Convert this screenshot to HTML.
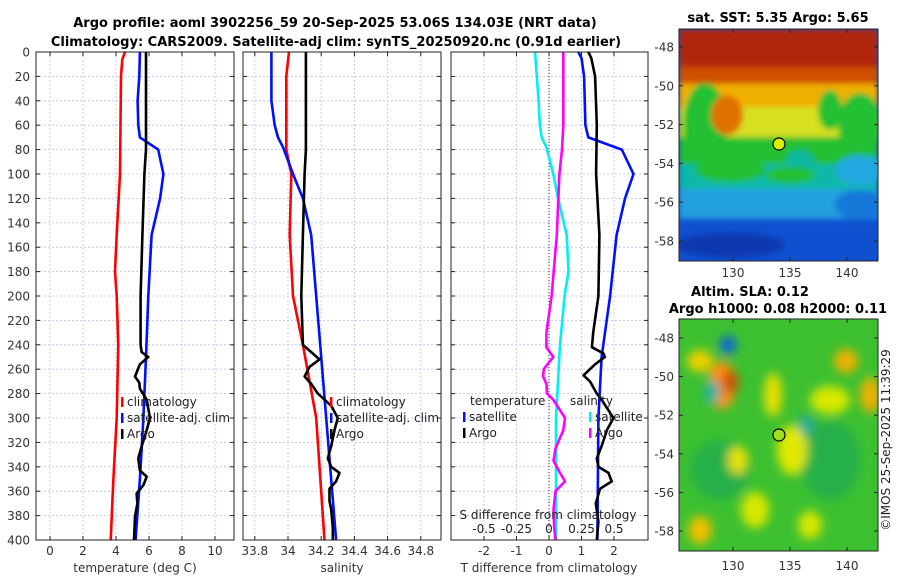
<!DOCTYPE html>
<html><head><meta charset="utf-8"><style>
body{margin:0;background:#fff;width:900px;height:580px;overflow:hidden}
svg{display:block;font-family:"DejaVu Sans","Liberation Sans",sans-serif}
</style></head><body>
<svg id="c" width="900" height="580" viewBox="0 0 900 580" xmlns="http://www.w3.org/2000/svg">
<defs>
<filter id="bl" x="-50%" y="-50%" width="200%" height="200%"><feGaussianBlur stdDeviation="5"/></filter>
<filter id="bl2" x="-50%" y="-50%" width="200%" height="200%"><feGaussianBlur stdDeviation="3"/></filter>
<clipPath id="cm1"><rect x="679" y="29" width="199" height="232"/></clipPath>
<clipPath id="cm2"><rect x="679" y="319" width="199" height="232"/></clipPath>
</defs>
<text x="335" y="27" text-anchor="middle" font-weight="bold" font-size="13">Argo profile: aoml 3902256_59 20-Sep-2025 53.06S 134.03E (NRT data)</text>
<text x="336" y="46" text-anchor="middle" font-weight="bold" font-size="13">Climatology: CARS2009. Satellite-adj clim: synTS_20250920.nc (0.91d earlier)</text>

<g clip-path="url(#cm1)">
<rect x="679" y="29" width="199" height="232" fill="#1050d0"/>
<g filter="url(#bl2)">
<rect x="679" y="29" width="199" height="190" fill="#20a0e0"/>
<rect x="679" y="29" width="199" height="160" fill="#10b8a8"/>
<rect x="679" y="29" width="199" height="135" fill="#20c030"/>
<rect x="679" y="29" width="199" height="108" fill="#d8e020"/>
<rect x="679" y="29" width="199" height="78" fill="#f0b000"/>
<rect x="679" y="29" width="199" height="55" fill="#d05000"/>
<rect x="679" y="29" width="199" height="38" fill="#b02808"/>
<ellipse cx="705" cy="125" rx="22" ry="42" fill="#20c030"/>
<ellipse cx="860" cy="125" rx="22" ry="32" fill="#20c030"/>
<ellipse cx="830" cy="110" rx="12" ry="20" fill="#20c030"/>
<ellipse cx="727" cy="115" rx="16" ry="20" fill="#e07000"/>
<ellipse cx="800" cy="160" rx="14" ry="10" fill="#10b8a0"/>
<ellipse cx="730" cy="170" rx="35" ry="12" fill="#20c030"/>
<ellipse cx="790" cy="175" rx="25" ry="8" fill="#20c030"/>
<ellipse cx="860" cy="170" rx="25" ry="15" fill="#20a8e0"/>
<ellipse cx="860" cy="205" rx="25" ry="15" fill="#1878d8"/>
<ellipse cx="730" cy="245" rx="55" ry="12" fill="#0838b0"/>
</g>
<circle cx="779" cy="144" r="6" fill="#d8f000" stroke="#000" stroke-width="1.2"/>
</g>
<rect x="679" y="29" width="199" height="232" fill="none" stroke="#222" stroke-width="1"/>
<text x="778" y="22" text-anchor="middle" font-weight="bold" font-size="13">sat. SST: 5.35 Argo: 5.65</text>

<g clip-path="url(#cm2)">
<rect x="679" y="319" width="199" height="232" fill="#3cc030"/>
<g filter="url(#bl)">
<ellipse cx="720" cy="470" rx="30" ry="30" fill="#28b048"/>
<ellipse cx="830" cy="460" rx="30" ry="40" fill="#28b048"/>
<ellipse cx="722" cy="385" rx="14" ry="24" fill="#ff9010"/>
<ellipse cx="730" cy="382" rx="8" ry="12" fill="#d05000"/>
<ellipse cx="728" cy="345" rx="8" ry="9" fill="#1060e0"/>
<ellipse cx="700" cy="361" rx="13" ry="11" fill="#f0d000"/>
<ellipse cx="846" cy="361" rx="12" ry="12" fill="#f0b000"/>
<ellipse cx="870" cy="395" rx="10" ry="18" fill="#f0b000"/>
<ellipse cx="773" cy="395" rx="9" ry="22" fill="#e8e000"/>
<ellipse cx="792" cy="450" rx="15" ry="25" fill="#e0e800"/>
<ellipse cx="738" cy="460" rx="10" ry="14" fill="#e8e000"/>
<ellipse cx="830" cy="400" rx="20" ry="14" fill="#d8e800"/>
<ellipse cx="700" cy="530" rx="12" ry="14" fill="#f0c000"/>
<ellipse cx="755" cy="510" rx="14" ry="18" fill="#d8e800"/>
<ellipse cx="810" cy="525" rx="12" ry="14" fill="#d8e800"/>
<ellipse cx="712" cy="392" rx="8" ry="12" fill="#20b0a0"/>
<ellipse cx="806" cy="425" rx="7" ry="10" fill="#20a8a0"/>
</g>
<circle cx="779" cy="435" r="6" fill="#a0e020" stroke="#000" stroke-width="1.2"/>
</g>
<rect x="679" y="319" width="199" height="232" fill="none" stroke="#222" stroke-width="1"/>
<text x="750" y="296" text-anchor="middle" font-weight="bold" font-size="13">Altim. SLA: 0.12</text>
<text x="778" y="313" text-anchor="middle" font-weight="bold" font-size="13">Argo h1000: 0.08 h2000: 0.11</text>
<text transform="translate(890,440) rotate(-90)" text-anchor="middle" font-size="12" fill="#222">©IMOS 25-Sep-2025 11:39:29</text>
<g id="g"></g>
</svg>
<script>
// ---------- data ----------
const depthTicks=[0,20,40,60,80,100,120,140,160,180,200,220,240,260,280,300,320,340,360,380,400];
const tTicks=[0,2,4,6,8,10];
const sTicks=[33.8,34,34.2,34.4,34.6,34.8];
const sTickLabels=["33.8","34","34.2","34.4","34.6","34.8"];
const tdTicks=[-2,-1,0,1,2];
const sdTicks=[-0.5,-0.25,0,0.25,0.5];
const sdTickLabels=["-0.5","-0.25","0","0.25","0.5"];

const climTDepth=[0,6,20,100,150,180,200,240,300,350,400];
const climT=[4.55,4.38,4.30,4.24,4.04,3.94,4.04,4.14,4.04,3.84,3.68];
const satTDepth=[0,20,40,60,70,80,100,120,150,200,250,300,350,400];
const satT=[5.45,5.41,5.31,5.35,5.45,6.56,6.87,6.67,6.16,5.96,5.82,5.66,5.45,5.19];
const argoTDepth=[0,60,80,100,150,200,240,246,250,256,266,271,276,285,300,312,323,333,343,348,355,362,370,381,400];
const argoT=[5.82,5.82,5.82,5.72,5.60,5.49,5.49,5.55,5.96,5.45,5.15,5.41,5.45,5.86,6.06,5.82,5.56,5.35,5.45,5.86,5.66,5.25,5.30,5.15,5.09];

const climSDepth=[0,20,80,100,150,200,240,300,400];
const climS=[34.006,33.99,33.99,34.02,34.01,34.03,34.09,34.17,34.22];
const satSDepth=[0,40,60,70,78,100,120,150,200,300,400];
const satS=[33.90,33.90,33.92,33.94,33.97,34.03,34.09,34.14,34.17,34.23,34.29];
const argoSDepth=[0,80,100,150,200,240,246,252,258,266,272,280,290,300,310,323,333,340,345,352,358,368,375,390,400];
const argoS=[34.108,34.108,34.10,34.09,34.08,34.09,34.14,34.19,34.13,34.10,34.14,34.18,34.26,34.30,34.28,34.26,34.24,34.26,34.31,34.29,34.25,34.25,34.26,34.27,34.27];

const satSdDepth=[0,40,60,70,78,100,120,150,180,200,240,300,400];
const satSd=[-0.108,-0.08,-0.07,-0.056,-0.02,0.033,0.07,0.136,0.15,0.12,0.085,0.054,0.054];
const argoSdDepth=[0,60,80,100,150,200,230,242,250,255,260,266,272,280,285,300,310,325,335,345,352,360,375,390,400];
const argoSd=[0.11,0.11,0.10,0.08,0.06,0.02,-0.02,-0.02,0.033,-0.005,-0.04,-0.045,-0.02,-0.015,0.033,0.123,0.11,0.05,0.035,0.085,0.123,0.05,0.035,0.04,0.05];
const satTdDepth=[0,5,20,60,70,80,100,120,150,200,250,300,400];
const satTd=[0.90,1.0,1.08,1.12,1.21,2.24,2.6,2.34,2.08,1.88,1.62,1.52,1.49];
const argoTdDepth=[0,5,20,60,100,150,200,230,242,247,250,256,265,270,280,285,300,310,323,333,340,345,352,358,370,385,400];
const argoTd=[1.21,1.3,1.42,1.47,1.45,1.55,1.52,1.36,1.32,1.67,1.72,1.42,1.06,1.26,1.47,1.62,1.98,1.78,1.62,1.47,1.52,1.83,1.93,1.57,1.44,1.52,1.47];

// ---------- axes ----------
const yTop=52,yBot=540;
const yD=d=>yTop+d*(yBot-yTop)/400;
const panels=[{x0:36,x1:234},{x0:243,x1:441},{x0:451,x1:648}];
const xT=v=>50+v*16.5;
const xS=v=>288+(v-34)*166;
const xTd=v=>549+v*32.5;
const xSd=v=>549+v*130;
const NS="http://www.w3.org/2000/svg";
const G=document.getElementById('g');
function el(t,a,p){const e=document.createElementNS(NS,t);for(const k in a)e.setAttribute(k,a[k]);(p||G).appendChild(e);return e;}

function drawPanel(i,ticks,labels,xf,name){
  const p=panels[i];
  const g=el('g',{});
  
  
  depthTicks.forEach(d=>{
    if(d>0&&d<400){const l=el('line',{x1:p.x0,x2:p.x1,y1:yD(d),y2:yD(d),stroke:'#b8c0e8','stroke-width':0.8,'stroke-dasharray':'2,2'},g);
    
    }
    el('line',{x1:p.x0,x2:p.x0+4,y1:yD(d),y2:yD(d),stroke:'#222'},g);
    el('line',{x1:p.x1-4,x2:p.x1,y1:yD(d),y2:yD(d),stroke:'#222'},g);
  });
  ticks.forEach((v,j)=>{
    const x=xf(v);
    const l=el('line',{x1:x,x2:x,y1:yTop,y2:yBot,stroke:'#b8c0e8','stroke-width':0.8,'stroke-dasharray':'2,2'},g);
    
    
    el('line',{x1:x,x2:x,y1:yBot-4,y2:yBot,stroke:'#222'},g);
    el('line',{x1:x,x2:x,y1:yTop,y2:yTop+4,stroke:'#222'},g);
    const t=el('text',{x:x,y:555,'text-anchor':'middle','font-size':12,fill:'#333'},g);
    t.textContent=labels[j];
    
    
  });
  return g;
}
function line(xs,ds,xf,color,name,g){
  const pts=xs.map((v,k)=>xf(v).toFixed(1)+','+yD(ds[k]).toFixed(1)).join(' ');
  const l=el('polyline',{points:pts,fill:'none',stroke:color,'stroke-width':2.6,'stroke-linejoin':'round'},g);
  
  
}
function box(i){const p=panels[i];el('rect',{x:p.x0,y:yTop,width:p.x1-p.x0,height:yBot-yTop,fill:'none',stroke:'#222','stroke-width':1});}
function txt(x,y,s,name,opt){const t=el('text',Object.assign({x:x,y:y,'font-size':12,fill:'#222'},opt||{}));t.textContent=s;
  
  return t;}
function legend(x,y,color,s,name){const m=el('rect',{x:x,y:y-9,width:2.5,height:10,fill:color});
  
  
  txt(x+6,y,s,name);}

depthTicks.forEach(d=>txt(30,yD(d)+4.5,String(d),'y-tick-label',{'text-anchor':'end',fill:'#333'}));

const g1=drawPanel(0,tTicks,tTicks.map(String),xT,'temperature-panel');
line(climT,climTDepth,xT,'#ff0000','climatology-temperature-line',g1);
line(satT,satTDepth,xT,'#0010ff','satellite-temperature-line',g1);
line(argoT,argoTDepth,xT,'#000','argo-temperature-line',g1);
box(0);
legend(121,406,'#ff0000','climatology','legend-climatology');
legend(121,422,'#0010ff','satellite-adj. clim','legend-satellite');
legend(121,438,'#000','Argo','legend-argo');
txt(135,572,'temperature (deg C)','x-axis-title-temperature',{'text-anchor':'middle',fill:'#333'});

const g2=drawPanel(1,sTicks,sTickLabels,xS,'salinity-panel');
line(climS,climSDepth,xS,'#ff0000','climatology-salinity-line',g2);
line(satS,satSDepth,xS,'#0010ff','satellite-salinity-line',g2);
line(argoS,argoSDepth,xS,'#000','argo-salinity-line',g2);
box(1);
legend(330,406,'#ff0000','climatology','legend-climatology-s');
legend(330,422,'#0010ff','satellite-adj. clim','legend-satellite-s');
legend(330,438,'#000','Argo','legend-argo-s');
txt(342,572,'salinity','x-axis-title-salinity',{'text-anchor':'middle',fill:'#333'});

const g3=drawPanel(2,tdTicks,tdTicks.map(String),xTd,'difference-panel');
el('line',{x1:549,x2:549,y1:yTop,y2:yBot,stroke:'#333','stroke-width':1,'stroke-dasharray':'1,2'},g3);
line(satSd,satSdDepth,xSd,'#00f0f0','satellite-salinity-diff-line',g3);
line(argoSd,argoSdDepth,xSd,'#ff00ff','argo-salinity-diff-line',g3);
line(satTd,satTdDepth,xTd,'#0010ff','satellite-temperature-diff-line',g3);
line(argoTd,argoTdDepth,xTd,'#000','argo-temperature-diff-line',g3);
box(2);
txt(470,405,'temperature','legend-temperature-header');
legend(463,421,'#0010ff','satellite','legend-t-satellite');
legend(463,437,'#000','Argo','legend-t-argo');
txt(570,405,'salinity','legend-salinity-header');
legend(589,421,'#00f0f0','satellite','legend-s-satellite');
legend(589,437,'#ff00ff','Argo','legend-s-argo');
txt(548,519,'S difference from climatology','s-axis-title',{'text-anchor':'middle'});
sdTicks.forEach((v,j)=>txt(xSd(v),533,sdTickLabels[j],'s-tick-label',{'text-anchor':'middle'}));
txt(549,572,'T difference from climatology','x-axis-title-difference',{'text-anchor':'middle',fill:'#333'});

const latTicks=[-48,-50,-52,-54,-56,-58];
const lonTicks=[130,135,140];
const maps=[{y48:47,y58:241,yb:261,yt:29,ly:277},{y48:338,y58:531,yb:551,yt:319,ly:570}];
const lonX=v=>733+(v-130)*11.4;
maps.forEach(m=>{
  latTicks.forEach(v=>{
    const y=m.y48+(-48-v)*(m.y58-m.y48)/10;
    el('line',{x1:679,x2:683,y1:y,y2:y,stroke:'#222'});
    el('line',{x1:874,x2:878,y1:y,y2:y,stroke:'#222'});
    txt(674,y+4.5,String(v),'map-lat-label',{'text-anchor':'end',fill:'#333'});
  });
  lonTicks.forEach(v=>{
    const x=lonX(v);
    el('line',{x1:x,x2:x,y1:m.yb-4,y2:m.yb,stroke:'#222'});
    el('line',{x1:x,x2:x,y1:m.yt,y2:m.yt+4,stroke:'#222'});
    txt(x,m.ly,String(v),'map-lon-label',{'text-anchor':'middle',fill:'#333'});
  });
});
</script>
</body></html>
